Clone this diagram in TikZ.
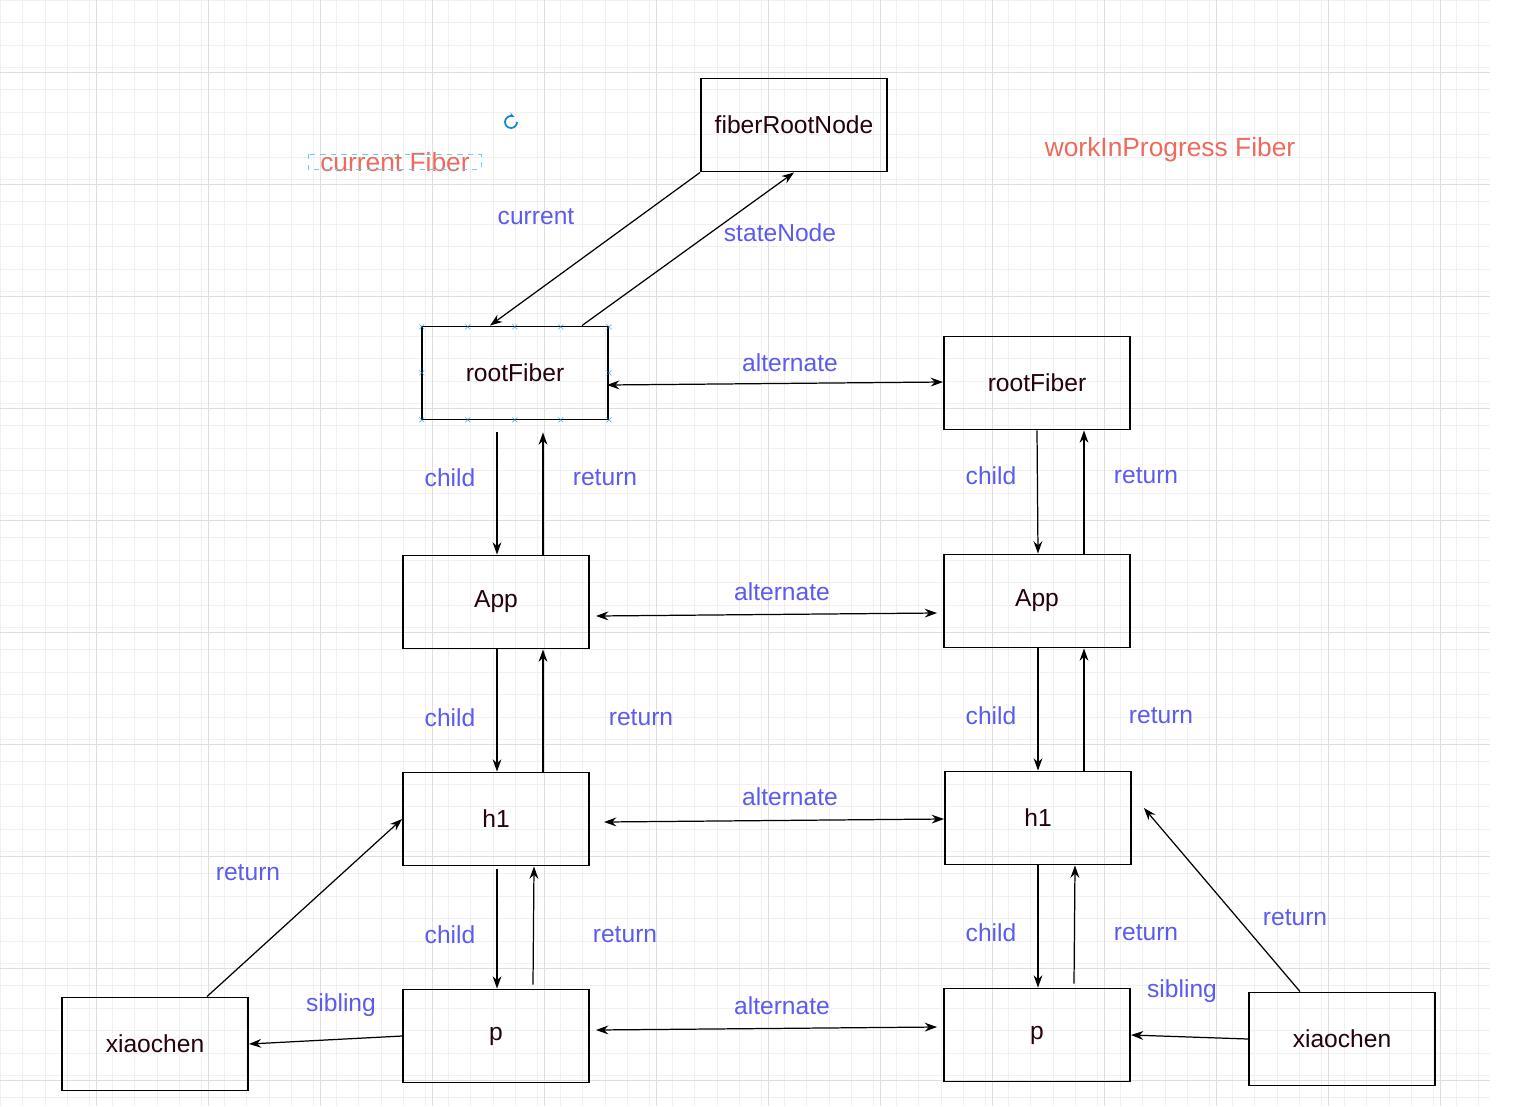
\documentclass[tikz,border=0pt]{standalone}
\usepackage{fontspec}
\setmainfont{Liberation Sans}
\usetikzlibrary{calc,arrows.meta}
\definecolor{lbl}{HTML}{5B5BF0}
\definecolor{rd}{HTML}{EE6A5E}
\begin{document}
\begin{tikzpicture}[x=0.02cm,y=-0.02cm,
  box/.style={draw,line width=1.1pt,minimum width=3.72cm,minimum height=1.86cm,inner sep=0pt,font=\fontsize{14}{16}\selectfont,text=black!80!purple},
  lab/.style={text=lbl,font=\fontsize{14}{16}\selectfont},
  ar/.style={-{Stealth[length=7pt,width=5pt]},line width=0.7pt},
  ab/.style={{Stealth[length=7pt,width=5pt]}-{Stealth[length=7pt,width=5pt]},line width=0.7pt}]
\useasboundingbox (0,0) rectangle (1524,1106);
\fill[white] (0,0) rectangle (1524,1106);
\foreach \i in {0,22.4,...,1490} \draw[black!6,line width=0.3pt] (\i,0) -- (\i,1106);
\foreach \j in {0,22.4,...,1106} \draw[black!6,line width=0.3pt] (0,\j) -- (1490,\j);
\foreach \i in {96,208,...,1490} \draw[black!13,line width=0.4pt] (\i,0) -- (\i,1106);
\foreach \j in {72,184,...,1106} \draw[black!13,line width=0.4pt] (0,\j) -- (1490,\j);

\node[box] (frn) at (794,125) {fiberRootNode};
\node[box] (rL) at (515,373) {rootFiber};
\node[box] (rR) at (1037,383) {rootFiber};
\node[box] (aL) at (496,602) {App};
\node[box] (aR) at (1037,601) {App};
\node[box] (hL) at (496,819) {h1};
\node[box] (hR) at (1038,818) {h1};
\node[box] (pL) at (496,1036) {p};
\node[box] (pR) at (1037,1035) {p};
\node[box] (xL) at (155,1044) {xiaochen};
\node[box] (xR) at (1342,1039) {xiaochen};

\foreach \p in {(422,327),(468,327),(515,327),(561,327),(609,327),(422,420),(468,420),(515,420),(561,420),(609,420),(422,373),(609,373)}
  \node[text=cyan!70!blue,font=\tiny,inner sep=0] at \p {$\times$};

\node[text=rd,font=\fontsize{15}{17}\selectfont] (cf) at (395,162) {current Fiber};
\draw[cyan!60,dashed,line width=0.4pt] (308,154) rectangle (481,169);
\node[text=rd,font=\fontsize{15}{17}\selectfont] (wf) at (1170,150) {workInProgress Fiber};
\draw[cyan!70!blue,line width=1pt,-{Stealth[length=3pt]}] (517,122) arc (0:300:6);

\draw[ar] (frn.south west) -- ($(rL.north)+(-25,0)$);
\draw[ar] ($(rL.north)+(67,0)$) -- (frn.south);
\node[lab] at (536,217) {current};
\node[lab] at (780,233) {stateNode};

\draw[ab] ($(rL.east)+(-2,12)$) -- ($(rR.west)+(0,-1)$);
\node[lab] at (790,363) {alternate};
\draw[ab] ($(aL.east)+(6,14)$) -- ($(aR.west)+(-6,12)$);
\node[lab] at (782,592) {alternate};
\draw[ab] ($(hL.east)+(14,3)$) -- ($(hR.west)+(0,1)$);
\node[lab] at (790,797) {alternate};
\draw[ab] ($(pL.east)+(6,-6)$) -- ($(pR.west)+(-6,-8)$);
\node[lab] at (782,1006) {alternate};

% left column
\draw[ar] ($(rL.south)+(-18,12)$) -- ($(aL.north)+(1,0)$);
\draw[ar] ($(aL.north)+(47,0)$) -- ($(rL.south)+(28,12)$);
\node[lab] at (450,478) {child}; \node[lab] at (605,478) {return};
\draw[ar] ($(aL.south)+(1,0)$) -- ($(hL.north)+(1,0)$);
\draw[ar] ($(hL.north)+(47,0)$) -- ($(aL.south)+(47,0)$);
\node[lab] at (450,718) {child}; \node[lab] at (641,718) {return};
\draw[ar] ($(hL.south)+(1,3)$) -- ($(pL.north)+(1,0)$);
\draw[ar] ($(pL.north)+(37,-4)$) -- ($(hL.south)+(38,0)$);
\node[lab] at (450,935) {child}; \node[lab] at (625,935) {return};
\draw[ar] (pL.west) -- (xL.east);
\node[lab] at (341,1005) {sibling};
\draw[ar] ($(xL.north)+(52,0)$) -- (hL.west);
\node[lab] at (248,873) {return};

% right column
\draw[ar] ($(rR.south)+(0,0)$) -- ($(aR.north)+(1,0)$);
\draw[ar] ($(aR.north)+(47,0)$) -- ($(rR.south)+(47,0)$);
\node[lab] at (991,476) {child}; \node[lab] at (1146,476) {return};
\draw[ar] ($(aR.south)+(1,0)$) -- ($(hR.north)+(0,0)$);
\draw[ar] ($(hR.north)+(46,0)$) -- ($(aR.south)+(47,0)$);
\node[lab] at (991,716) {child}; \node[lab] at (1161,716) {return};
\draw[ar] ($(hR.south)+(0,0)$) -- ($(pR.north)+(1,0)$);
\draw[ar] ($(pR.north)+(37,-4)$) -- ($(hR.south)+(37,0)$);
\node[lab] at (991,933) {child}; \node[lab] at (1146,933) {return};
\draw[ar] (xR.west) -- (pR.east);
\node[lab] at (1182,991) {sibling};
\draw[ar] ($(xR.north)+(-42,0)$) -- ($(hR.east)+(12,-10)$);
\node[lab] at (1295,918) {return};
\end{tikzpicture}
\end{document}
